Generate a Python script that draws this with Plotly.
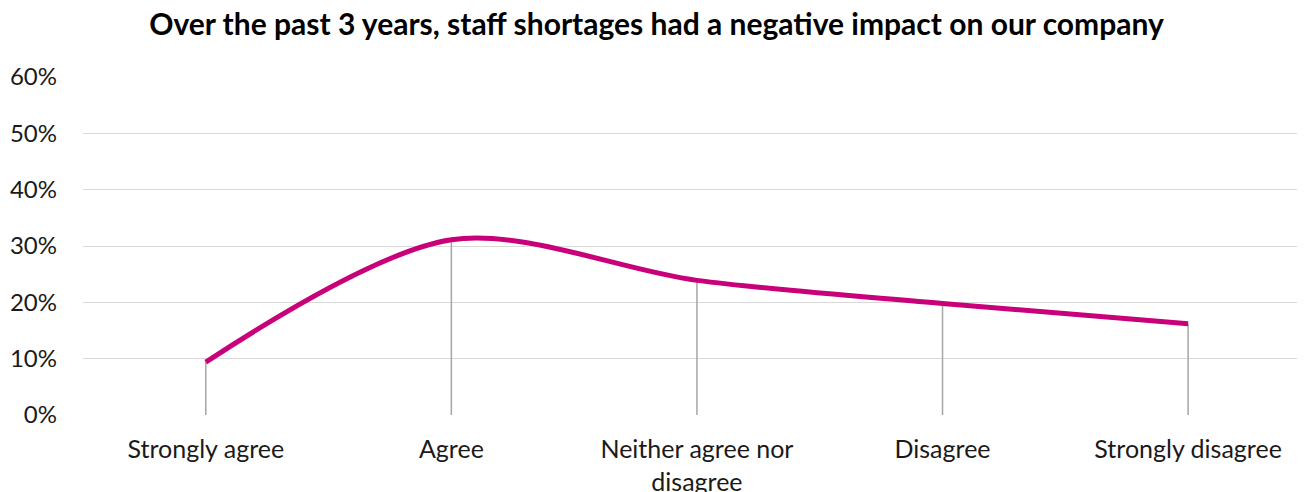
import plotly.graph_objects as go

categories = ["Strongly agree", "Agree", "Neither agree nor<br>disagree", "Disagree", "Strongly disagree"]
values = [0.094, 0.311, 0.239, 0.198, 0.162]
y_ticks = [0, 0.1, 0.2, 0.3, 0.4, 0.5, 0.6]
y_labels = ["0%", "10%", "20%", "30%", "40%", "50%", "60%"]
title = "Over the past 3 years, staff shortages had a negative impact on our company"

xs = list(range(len(categories)))

drop_x, drop_y = [], []
for x, v in zip(xs, values):
    drop_x += [x, x, None]
    drop_y += [0, v, None]

fig = go.Figure()
fig.add_trace(go.Scatter(x=drop_x, y=drop_y, mode="lines",
                         line=dict(color="#A6A6A6", width=1.5),
                         hoverinfo="skip", showlegend=False))
fig.add_trace(go.Scatter(x=xs, y=values, mode="lines",
                         line=dict(color="#C8007A", width=5, shape="spline", smoothing=0.9),
                         showlegend=False))

font_family = "Lato, 'Open Sans', sans-serif"
fig.update_layout(
    width=1297, height=484,
    margin=dict(l=75, r=0, t=69, b=77),
    paper_bgcolor="white", plot_bgcolor="white",
    title=dict(text="<b>" + title + "</b>", x=0.5, xanchor="center",
               y=0.965, yanchor="middle",
               font=dict(family=font_family, size=30, color="black")),
    font=dict(family=font_family, size=25, color="#000000"),
    xaxis=dict(range=[-0.5, 4.476], tickvals=xs, ticktext=categories,
               showgrid=False, zeroline=False, showline=False, ticks="",
               automargin=False, ticklabelstandoff=17,
               tickfont=dict(size=25, color="#1a1a1a")),
    yaxis=dict(range=[0, 0.6], tickvals=y_ticks, ticktext=y_labels,
               showgrid=True, gridcolor="#D9D9D9", gridwidth=1.3,
               zeroline=False, showline=False, ticks="",
               automargin=False, ticklabelstandoff=25,
               tickfont=dict(size=24, color="#1a1a1a")),
)

fig.write_html("out.html")
